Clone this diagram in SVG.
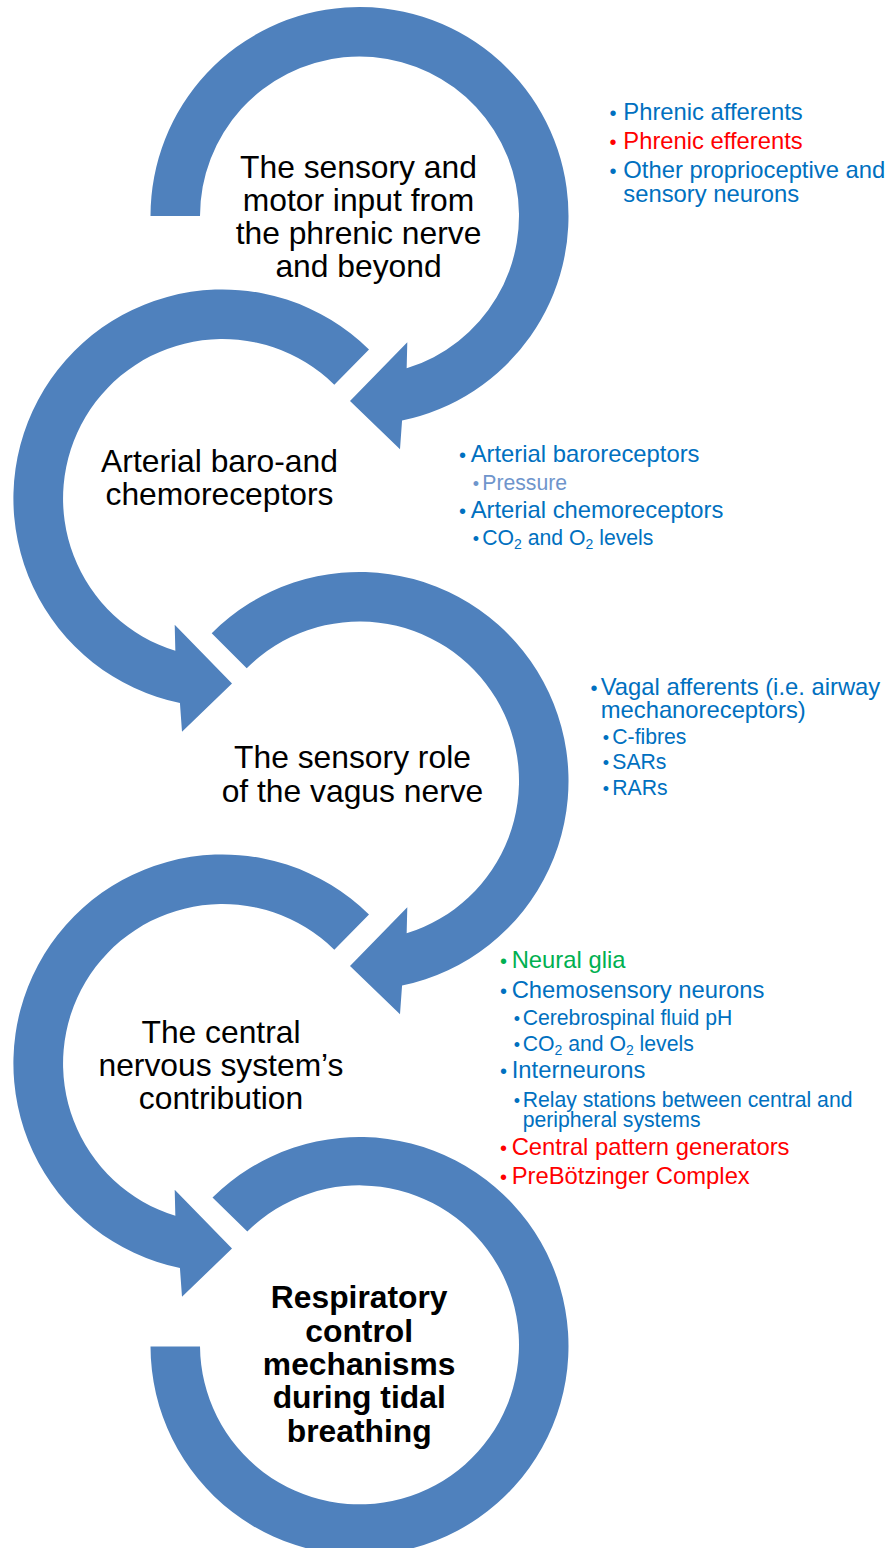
<svg xmlns="http://www.w3.org/2000/svg" width="889" height="1548" viewBox="0 0 889 1548">
  <style>
    .arc { fill: #4F81BD; stroke: none; }
    .title { font-family: "Liberation Sans", Arial, sans-serif; font-size: 31.8px; fill: #000000; text-anchor: middle; }
    .bold { font-weight: bold; }
    .l1 { font-family: "Liberation Sans", Arial, sans-serif; font-size: 23.8px; }
    .l2 { font-family: "Liberation Sans", Arial, sans-serif; font-size: 21.2px; }
    .dot { text-anchor: middle; font-size: 20px; }
    .l2.dot { font-size: 18px; }
    .blue { fill: #0070C0; }
    .red { fill: #FF0000; }
    .green { fill: #00B050; }
    .pale { fill: #6F95CC; }
    .sub { font-size: 14px; }
  </style>
  <rect width="889" height="1548" fill="#FFFFFF"/>

  <!-- circular arrows linking the five stages -->
  <g id="connectors">
    <!-- stage 1: centre (359.5,216), tail at 9 o'clock, clockwise -->
    <path class="arc" d="M150.5,216 A209,209 0 1 1 402.07,420.6 L400,449.3 L350,401 L407.3,342.2 L406.66,368.37 A159.5,159.5 0 1 0 200,216 Z"/>
    <!-- stage 2: centre (222.5,498.5), tail upper right, anticlockwise -->
    <path class="arc" d="M369,349.5 A209,209 0 1 0 179.93,703.1 L182,731.8 L232,683.5 L174.7,624.7 L175.34,650.87 A159.5,159.5 0 1 1 334.3,384.7 Z"/>
    <!-- stage 3: centre (359.5,781), tail upper left, clockwise -->
    <path class="arc" d="M211.71,633.21 A209,209 0 1 1 402.07,985.6 L400,1014.3 L350,966 L407.3,907.2 L406.66,933.37 A159.5,159.5 0 1 0 246.72,668.22 Z"/>
    <!-- stage 4: centre (222.5,1063.5), tail upper right, anticlockwise -->
    <path class="arc" d="M369,914.5 A209,209 0 1 0 179.93,1268.1 L182,1296.8 L232,1248.5 L174.7,1189.7 L175.34,1215.87 A159.5,159.5 0 1 1 334.3,949.7 Z"/>
    <!-- stage 5: centre (359.5,1345.5), plain block arc -->
    <path class="arc" d="M212.5,1197.5 A209,209 0 1 1 150.5,1346.5 L200,1346.5 A159.5,159.5 0 1 0 247.3,1231.5 Z"/>
  </g>

  <g id="stage-phrenic">
    <text class="title" x="358.5" y="178">The sensory and</text>
    <text class="title" x="358.5" y="211">motor input from</text>
    <text class="title" x="358.5" y="244">the phrenic nerve</text>
    <text class="title" x="358.5" y="277">and beyond</text>
  </g>

  <g id="list-phrenic">
    <text class="l1 blue dot" x="613" y="120">•</text>
    <text class="l1 blue" x="623.3" y="120">Phrenic afferents</text>
    <text class="l1 red dot" x="613" y="149">•</text>
    <text class="l1 red" x="623.3" y="149">Phrenic efferents</text>
    <text class="l1 blue dot" x="613" y="178.3">•</text>
    <text class="l1 blue" x="623.3" y="178.3">Other proprioceptive and<tspan x="623.3" dy="23.4">sensory neurons</tspan></text>
  </g>

  <g id="stage-arterial">
    <text class="title" x="219.5" y="472">Arterial baro-and</text>
    <text class="title" x="219.5" y="504.5">chemoreceptors</text>
  </g>

  <g id="list-arterial">
    <text class="l1 blue dot" x="462.5" y="461.7">•</text>
    <text class="l1 blue" x="470.7" y="461.7">Arterial baroreceptors</text>
    <text class="l2 pale dot" x="476" y="490">•</text>
    <text class="l2 pale" x="482.3" y="490">Pressure</text>
    <text class="l1 blue dot" x="462.5" y="518.3">•</text>
    <text class="l1 blue" x="470.7" y="518.3">Arterial chemoreceptors</text>
    <text class="l2 blue dot" x="476" y="545">•</text>
    <text class="l2 blue" x="482.3" y="545">CO<tspan class="sub" dy="4">2</tspan><tspan dy="-4"> and O</tspan><tspan class="sub" dy="4">2</tspan><tspan dy="-4"> levels</tspan></text>
  </g>

  <g id="stage-vagus">
    <text class="title" x="352.5" y="768.3">The sensory role</text>
    <text class="title" x="352.5" y="801.7">of the vagus nerve</text>
  </g>

  <g id="list-vagus">
    <text class="l1 blue dot" x="594" y="695">•</text>
    <text class="l1 blue" x="600.7" y="695">Vagal afferents (i.e. airway<tspan x="600.7" dy="23.3">mechanoreceptors)</tspan></text>
    <text class="l2 blue dot" x="606" y="744">•</text>
    <text class="l2 blue" x="612.3" y="744">C-fibres</text>
    <text class="l2 blue dot" x="606" y="769.3">•</text>
    <text class="l2 blue" x="612.3" y="769.3">SARs</text>
    <text class="l2 blue dot" x="606" y="795">•</text>
    <text class="l2 blue" x="612.3" y="795">RARs</text>
  </g>

  <g id="stage-cns">
    <text class="title" x="221" y="1043.3">The central</text>
    <text class="title" x="221" y="1076">nervous system’s</text>
    <text class="title" x="221" y="1109">contribution</text>
  </g>

  <g id="list-cns">
    <text class="l1 green dot" x="503.5" y="968.3">•</text>
    <text class="l1 green" x="511.7" y="968.3">Neural glia</text>
    <text class="l1 blue dot" x="503.5" y="997.7">•</text>
    <text class="l1 blue" x="511.7" y="997.7">Chemosensory neurons</text>
    <text class="l2 blue dot" x="517" y="1025">•</text>
    <text class="l2 blue" x="522.7" y="1025">Cerebrospinal fluid pH</text>
    <text class="l2 blue dot" x="517" y="1051">•</text>
    <text class="l2 blue" x="522.7" y="1051">CO<tspan class="sub" dy="4">2</tspan><tspan dy="-4"> and O</tspan><tspan class="sub" dy="4">2</tspan><tspan dy="-4"> levels</tspan></text>
    <text class="l1 blue dot" x="503.5" y="1078.3">•</text>
    <text class="l1 blue" x="511.7" y="1078.3">Interneurons</text>
    <text class="l2 blue dot" x="517" y="1106.7">•</text>
    <text class="l2 blue" x="522.7" y="1106.7">Relay stations between central and<tspan x="522.7" dy="20">peripheral systems</tspan></text>
    <text class="l1 red dot" x="503.5" y="1155">•</text>
    <text class="l1 red" x="511.7" y="1155">Central pattern generators</text>
    <text class="l1 red dot" x="503.5" y="1184.3">•</text>
    <text class="l1 red" x="511.7" y="1184.3">PreBötzinger Complex</text>
  </g>

  <g id="stage-control">
    <text class="title bold" x="359.2" y="1308.3">Respiratory</text>
    <text class="title bold" x="359.2" y="1341.7">control</text>
    <text class="title bold" x="359.2" y="1375">mechanisms</text>
    <text class="title bold" x="359.2" y="1408.3">during tidal</text>
    <text class="title bold" x="359.2" y="1441.7">breathing</text>
  </g>
</svg>
